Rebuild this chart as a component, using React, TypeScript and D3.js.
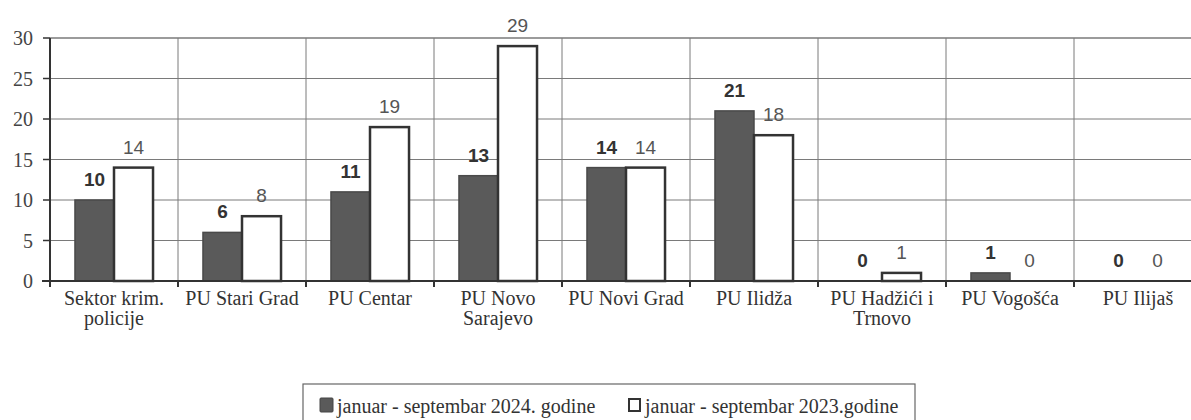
import React from "react";
import * as d3 from "d3";

const categories = [
  "Sektor krim.|policije",
  "PU Stari Grad",
  "PU Centar",
  "PU Novo|Sarajevo",
  "PU Novi Grad",
  "PU Ilidža",
  "PU Hadžići i|Trnovo",
  "PU Vogošća",
  "PU Ilijaš",
];
const series = ["januar - septembar 2024. godine", "januar - septembar 2023.godine"];
const values2024 = [10, 6, 11, 13, 14, 21, 0, 1, 0];
const values2023 = [14, 8, 19, 29, 14, 18, 1, 0, 0];
const yTicks = [0, 5, 10, 15, 20, 25, 30];

const W = 1191;
const H = 420;
const left = 50;
const right = 1202;
const top = 38;
const bottom = 281;

const serif = "'Liberation Serif', 'Times New Roman', serif";
const sans = "'Liberation Sans', Arial, sans-serif";

export default function App() {
  const x0 = d3.scaleBand<string>().domain(categories).range([left, right]).paddingInner(0).paddingOuter(0);
  const x1 = d3.scaleBand<string>().domain(series).range([0, x0.bandwidth()]).paddingInner(0).paddingOuter(0.64);
  const y = d3.scaleLinear().domain([0, 30]).range([bottom, top]);
  const data = [values2024, values2023];
  const bounds = categories.map((c) => x0(c) as number).concat([right]);

  return (
    <svg width={W} height={H} style={{ position: "absolute", left: 0, top: 0, background: "#fff" }}>
      <rect x={0} y={0} width={W} height={H} fill="#fff" />
      {/* horizontal grid */}
      {yTicks.map((t) => (
        <line key={"h" + t} x1={left} x2={right} y1={y(t)} y2={y(t)} stroke="#7a7a7a" strokeWidth={t === 30 ? 1.6 : 1} />
      ))}
      {/* vertical grid */}
      {bounds.slice(1).map((b, i) => (
        <line key={"v" + i} x1={b} x2={b} y1={top} y2={bottom} stroke="#7a7a7a" strokeWidth={1} />
      ))}
      {/* bars */}
      {categories.map((c, ci) =>
        series.map((s, si) => {
          const v = data[si][ci];
          const bx = (x0(c) as number) + (x1(s) as number);
          const bw = x1.bandwidth();
          if (v === 0) return null;
          return (
            <rect
              key={c + s}
              x={bx}
              y={y(v)}
              width={bw}
              height={bottom - y(v)}
              fill={si === 0 ? "#5a5a5a" : "#ffffff"}
              stroke={si === 0 ? "#4a4a4a" : "#333"}
              strokeWidth={si === 0 ? 1.5 : 2.5}
            />
          );
        })
      )}
      {/* value labels */}
      {categories.map((c, ci) =>
        series.map((s, si) => {
          const v = data[si][ci];
          const cx = (x0(c) as number) + (x1(s) as number) + x1.bandwidth() / 2;
          return (
            <text
              key={"l" + c + s}
              x={cx}
              y={y(v) - 14}
              textAnchor="middle"
              fontFamily={sans}
              fontSize={19}
              fontWeight={si === 0 ? "bold" : "normal"}
              fill={si === 0 ? "#333" : "#555"}
            >
              {v}
            </text>
          );
        })
      )}
      {/* axes */}
      <line x1={left} x2={left} y1={top} y2={bottom} stroke="#333" strokeWidth={2} />
      <line x1={left - 8} x2={right} y1={bottom} y2={bottom} stroke="#333" strokeWidth={2} />
      {yTicks.map((t) => (
        <g key={"yt" + t}>
          <line x1={left - 7} x2={left} y1={y(t)} y2={y(t)} stroke="#333" strokeWidth={1.5} />
          <text x={33} y={y(t) + 7} textAnchor="end" fontFamily={serif} fontSize={20} fill="#444">
            {t}
          </text>
        </g>
      ))}
      {bounds.map((b, i) => (
        <line key={"xt" + i} x1={b} x2={b} y1={bottom} y2={bottom + 6} stroke="#333" strokeWidth={2} />
      ))}
      {categories.map((c) => {
        const cx = (x0(c) as number) + x0.bandwidth() / 2;
        return c.split("|").map((line, li) => (
          <text key={"xl" + c + li} x={cx} y={305 + li * 20} textAnchor="middle" fontFamily={serif} fontSize={20} fill="#333">
            {line}
          </text>
        ));
      })}
      {/* legend */}
      <rect x={303} y={384} width={612} height={40} fill="#fff" stroke="#666" strokeWidth={1.2} />
      <rect x={320} y={398} width={13} height={14} fill="#5a5a5a" stroke="#444" strokeWidth={1} rx={1} />
      <text x={337} y={413} fontFamily={serif} fontSize={20} fill="#333">
        {series[0]}
      </text>
      <rect x={629} y={399} width={11} height={12} fill="#fff" stroke="#333" strokeWidth={2} />
      <text x={645} y={413} fontFamily={serif} fontSize={20} fill="#333">
        {series[1]}
      </text>
    </svg>
  );
}
